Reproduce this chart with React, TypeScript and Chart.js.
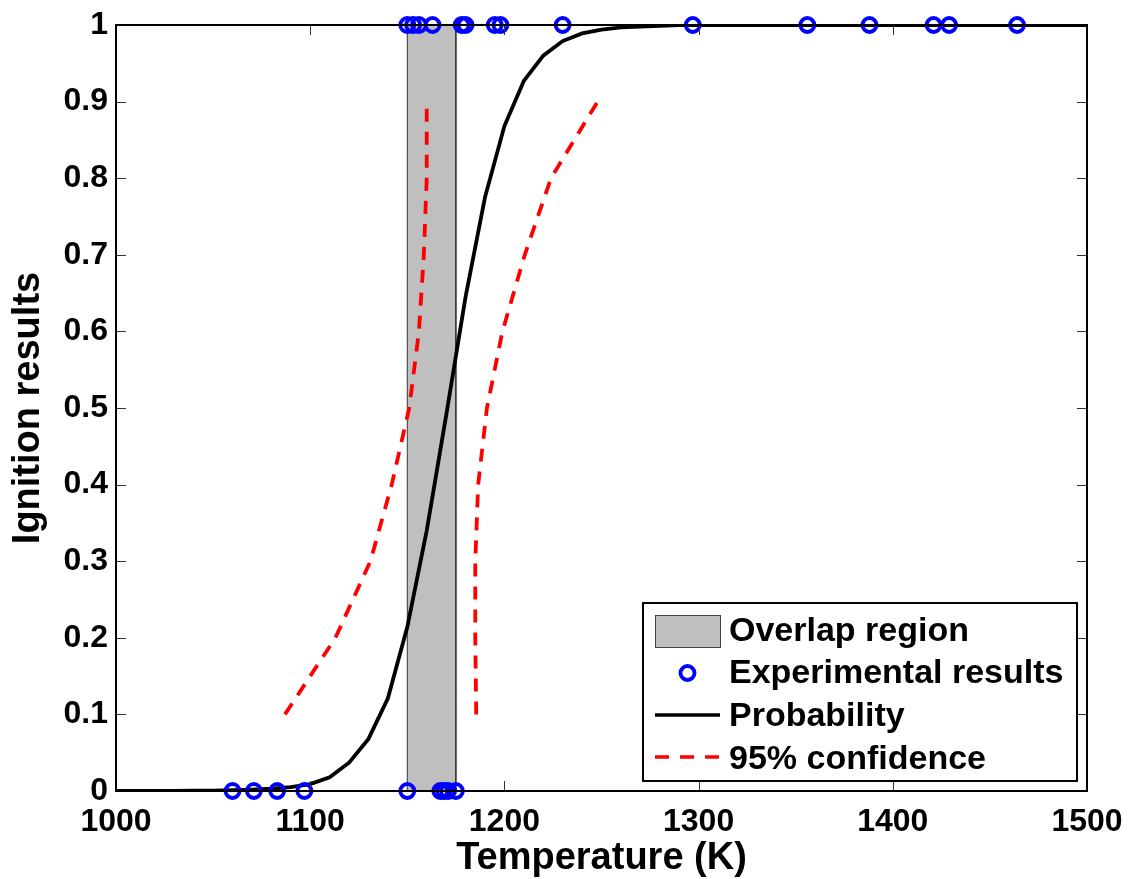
import React, { useEffect, useRef } from "react";
import { Chart, registerables } from "chart.js";

Chart.register(...registerables);

// ---------- data ----------
const ignitedTemps = [1150, 1153, 1156, 1163, 1178, 1180, 1195, 1198, 1230, 1297, 1356, 1388, 1421, 1429, 1464];
const noIgnitionTemps = [1060, 1071, 1083, 1097, 1150, 1167, 1169, 1171, 1175];

const curveTemps = [
  1000, 1010, 1020, 1030, 1040, 1050, 1060, 1070, 1080, 1090,
  1100, 1110, 1120, 1130, 1140, 1150, 1160, 1170, 1180, 1190,
  1200, 1210, 1220, 1230, 1240, 1250, 1260, 1270, 1280, 1290,
  1300, 1310, 1320, 1330, 1340, 1350, 1360, 1370, 1380, 1390,
  1400, 1410, 1420, 1430, 1440, 1450, 1460, 1470, 1480, 1490, 1500,
];
const curveProb = [
  0, 0, 0, 0, 0.0003, 0.0005, 0.001, 0.0017, 0.003, 0.005,
  0.009, 0.018, 0.037, 0.068, 0.121, 0.214, 0.34, 0.49, 0.645, 0.775,
  0.868, 0.927, 0.96, 0.979, 0.989, 0.994, 0.997, 0.998, 0.999, 1,
  1, 1, 1, 1, 1, 1, 1, 1, 1, 1,
  1, 1, 1, 1, 1, 1, 1, 1, 1, 1, 1,
];

const ciLevels = [0.1, 0.2, 0.3, 0.4, 0.5, 0.6, 0.7, 0.8, 0.9];
const ciLowerTemps = [1087, 1113, 1131, 1142, 1151, 1156, 1158.5, 1160, 1160];
const ciUpperTemps = [1185.5, 1185, 1185, 1186.5, 1191, 1199, 1210.5, 1224, 1248];

const overlapStart = 1150;
const overlapEnd = 1175;

const xTickValues = [1000, 1100, 1200, 1300, 1400, 1500];
const yTickValues = [0, 0.1, 0.2, 0.3, 0.4, 0.5, 0.6, 0.7, 0.8, 0.9, 1];

const legendLabels = ["Overlap region", "Experimental results", "Probability", "95% confidence"];

// ---------- styles ----------
const FONT = "'Liberation Sans', Arial, Helvetica, sans-serif";
const GRAY = "#bfbfbf";
const BLUE = "#0000ff";
const RED = "#ff0000";
const DASH = [13, 10];

const framePlugin = {
  id: "matlabFrame",
  afterDatasetsDraw(chart: any) {
    const { ctx, chartArea: a, scales } = chart;
    const x = scales.x;
    const y = scales.y;
    ctx.save();
    ctx.strokeStyle = "#333";
    ctx.lineWidth = 1;
    const tl = 10;
    ctx.beginPath();
    xTickValues.forEach((v) => {
      const px = Math.round(x.getPixelForValue(v)) + 0.5;
      ctx.moveTo(px, a.bottom);
      ctx.lineTo(px, a.bottom - tl);
      ctx.moveTo(px, a.top);
      ctx.lineTo(px, a.top + tl);
    });
    yTickValues.forEach((v) => {
      const py = Math.round(y.getPixelForValue(v)) + 0.5;
      ctx.moveTo(a.left, py);
      ctx.lineTo(a.left + tl, py);
      ctx.moveTo(a.right, py);
      ctx.lineTo(a.right - tl, py);
    });
    ctx.stroke();
    ctx.strokeStyle = "#000";
    ctx.lineWidth = 2;
    ctx.strokeRect(a.left, a.top, a.right - a.left, a.bottom - a.top);
    ctx.restore();
  },
  afterDraw(chart: any) {
    const { ctx, chartArea: a } = chart;
    ctx.save();
    const bx = a.right - 444;
    const by = a.bottom - 188;
    const bw = 434;
    const bh = 178;
    ctx.fillStyle = "#fff";
    ctx.fillRect(bx, by, bw, bh);
    ctx.strokeStyle = "#000";
    ctx.lineWidth = 2;
    ctx.strokeRect(bx, by, bw, bh);

    const symL = bx + 12;
    const symR = bx + 77;
    const rowCenters = [by + 28, by + 70, by + 112, by + 154];
    const baselines = [by + 38, by + 80, by + 123, by + 166];

    ctx.fillStyle = GRAY;
    ctx.fillRect(symL, rowCenters[0] - 16, symR - symL, 32);
    ctx.strokeStyle = "#444";
    ctx.lineWidth = 1;
    ctx.strokeRect(symL + 0.5, rowCenters[0] - 16 + 0.5, symR - symL, 32);

    ctx.beginPath();
    ctx.strokeStyle = BLUE;
    ctx.lineWidth = 3.8;
    ctx.arc((symL + symR) / 2, rowCenters[1], 7, 0, Math.PI * 2);
    ctx.stroke();

    ctx.beginPath();
    ctx.strokeStyle = "#000";
    ctx.lineWidth = 3.5;
    ctx.moveTo(symL, rowCenters[2]);
    ctx.lineTo(symR, rowCenters[2]);
    ctx.stroke();

    ctx.beginPath();
    ctx.strokeStyle = RED;
    ctx.setLineDash([14, 11]);
    ctx.moveTo(symL, rowCenters[3]);
    ctx.lineTo(symR, rowCenters[3]);
    ctx.stroke();
    ctx.setLineDash([]);

    ctx.fillStyle = "#000";
    ctx.font = `bold 34px ${FONT}`;
    ctx.textAlign = "left";
    ctx.textBaseline = "alphabetic";
    legendLabels.forEach((t, i) => {
      ctx.fillText(t, bx + 86, baselines[i]);
    });
    ctx.restore();
  },
};

export default function App() {
  const canvasRef = useRef<HTMLCanvasElement | null>(null);

  useEffect(() => {
    const canvas = canvasRef.current;
    if (!canvas) return;

    const chart = new Chart(canvas, {
      type: "scatter",
      data: {
        datasets: [
          {
            label: "Experimental results",
            data: [
              ...ignitedTemps.map((t) => ({ x: t, y: 1 })),
              ...noIgnitionTemps.map((t) => ({ x: t, y: 0 })),
            ],
            pointStyle: "circle",
            pointRadius: 7,
            pointBorderWidth: 3.8,
            pointBorderColor: BLUE,
            pointBackgroundColor: "rgba(0,0,0,0)",
            showLine: false,
            clip: false as any,
            order: 1,
          },
          {
            label: "Probability",
            data: curveTemps.map((t, i) => ({ x: t, y: curveProb[i] })),
            showLine: true,
            borderColor: "#000",
            borderWidth: 3.8,
            pointRadius: 0,
            tension: 0,
            order: 2,
          },
          {
            label: "95% confidence",
            data: ciLevels.map((p, i) => ({ x: ciLowerTemps[i], y: p })),
            showLine: true,
            borderColor: RED,
            borderWidth: 3.8,
            borderDash: DASH,
            pointRadius: 0,
            order: 3,
          },
          {
            label: "95% confidence upper",
            data: ciLevels.map((p, i) => ({ x: ciUpperTemps[i], y: p })),
            showLine: true,
            borderColor: RED,
            borderWidth: 3.8,
            borderDash: DASH,
            pointRadius: 0,
            order: 3,
          },
          {
            label: "Overlap region",
            data: [
              { x: overlapStart, y: 0 },
              { x: overlapStart, y: 1 },
              { x: overlapEnd, y: 1 },
              { x: overlapEnd, y: 0 },
            ],
            showLine: true,
            fill: "origin",
            backgroundColor: GRAY,
            borderColor: "#333",
            borderWidth: 1,
            pointRadius: 0,
            order: 4,
          },
        ],
      },
      options: {
        responsive: false,
        animation: false,
        layout: { padding: { left: 0, top: 25, right: 44, bottom: 0 } },
        plugins: {
          legend: { display: false },
          tooltip: { enabled: false },
        },
        scales: {
          x: {
            type: "linear",
            min: 1000,
            max: 1500,
            afterFit: (s: any) => {
              s.height = 88;
              s.paddingLeft = 0;
              s.paddingRight = 0;
            },
            afterBuildTicks: (s: any) => {
              s.ticks = xTickValues.map((v) => ({ value: v }));
            },
            ticks: {
              color: "#000",
              font: { family: FONT, size: 32, weight: "bold", lineHeight: 1 },
              padding: 15,
              maxRotation: 0,
              autoSkip: false,
              callback: (v: any) => String(v),
            },
            grid: { display: false, drawTicks: false },
            border: { display: false },
            title: {
              display: true,
              text: "Temperature (K)",
              color: "#000",
              font: { family: FONT, size: 38, weight: "bold", lineHeight: 1 },
              padding: { top: 0, bottom: 1 },
            },
          },
          y: {
            type: "linear",
            min: 0,
            max: 1,
            afterFit: (s: any) => {
              s.width = 116;
              s.paddingTop = 0;
              s.paddingBottom = 0;
            },
            afterBuildTicks: (s: any) => {
              s.ticks = yTickValues.map((v) => ({ value: v }));
            },
            ticks: {
              color: "#000",
              font: { family: FONT, size: 32, weight: "bold", lineHeight: 1 },
              padding: 8,
              autoSkip: false,
              callback: (v: any) => {
                const n = Number(v);
                return n === 0 || n === 1 ? String(n) : n.toFixed(1);
              },
            },
            grid: { display: false, drawTicks: false },
            border: { display: false },
            title: {
              display: true,
              text: "Ignition results",
              color: "#000",
              font: { family: FONT, size: 38, weight: "bold", lineHeight: 1 },
              padding: { top: 10, bottom: 0 },
            },
          },
        },
      },
      plugins: [framePlugin],
    } as any);

    return () => {
      chart.destroy();
    };
  }, []);

  return (
    <div
      style={{
        position: "absolute",
        left: 0,
        top: 0,
        width: 1131,
        height: 879,
        background: "#fff",
      }}
    >
      <canvas ref={canvasRef} width={1131} height={879} style={{ display: "block" }} />
    </div>
  );
}
